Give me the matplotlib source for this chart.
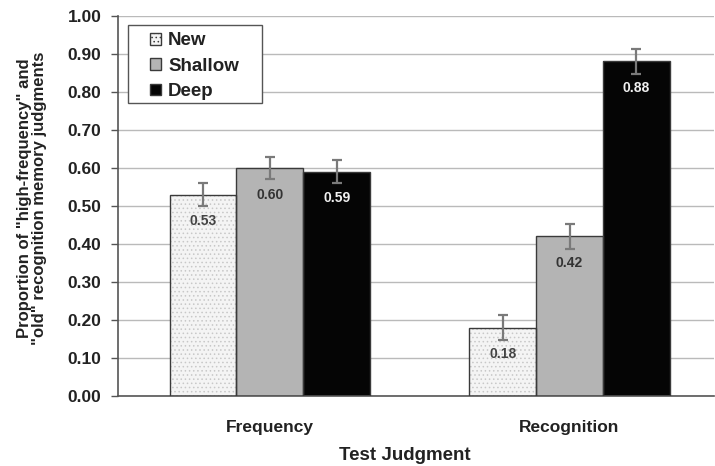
import matplotlib.pyplot as plt
import numpy as np
from matplotlib.patches import Patch, Rectangle

plt.rcParams['font.family'] = ['Liberation Sans', 'DejaVu Sans']
plt.rcParams['hatch.linewidth'] = 0.6

groups = ["Frequency", "Recognition"]
conditions = ["New", "Shallow", "Deep"]
new_vals = [0.53, 0.18]
shallow_vals = [0.60, 0.42]
deep_vals = [0.59, 0.88]
new_err = [0.03, 0.032]
shallow_err = [0.03, 0.032]
deep_err = [0.03, 0.032]
yticks = np.arange(0, 1.01, 0.1)

series = [
    (new_vals, new_err, "#f4f4f4", "#c8c8c8", "....", "#444444"),
    (shallow_vals, shallow_err, "#b4b4b4", "#a0a0a0", "", "#333333"),
    (deep_vals, deep_err, "#050505", "#050505", "", "#f0f0f0"),
]
txt = "#222222"

fig = plt.figure(figsize=(7.15, 4.66), dpi=100)
ax = fig.add_axes([0.165, 0.150, 0.834, 0.816])

x = np.arange(len(groups))
w = 0.223
for i, (vals, errs, fc, hc, hatch, tc) in enumerate(series):
    pos = x + (i - 1) * w
    # texture layer, then outline on top
    ax.bar(pos, vals, w, color=fc, edgecolor=hc, hatch=hatch, linewidth=0, zorder=2)
    ax.bar(pos, vals, w, facecolor="none", edgecolor="#3a3a3a", linewidth=1.0, zorder=3)
    ax.errorbar(pos, vals, yerr=errs, fmt="none", ecolor="#7a7a7a", elinewidth=1.6,
                capsize=3.5, capthick=1.6, zorder=4)
    for p, v in zip(pos, vals):
        ax.text(p, v - 0.07, f"{v:.2f}", ha="center", va="center", fontsize=10,
                fontweight="bold", color=tc, zorder=5)

ax.set_xlim(-0.507, 1.483)
ax.set_ylim(0, 1.0)
ax.set_yticks(yticks)
ax.set_yticklabels([f"{t:.2f}" for t in yticks], fontsize=12.5, fontweight="bold", color=txt)
ax.set_xticks(x)
ax.set_xticklabels(groups, fontsize=12.5, fontweight="bold", color=txt)
ax.tick_params(axis="x", length=0, pad=17)
ax.tick_params(axis="y", direction="out", length=5, width=1, color="#555555", pad=7)
ax.yaxis.grid(True, color="#bababa", linewidth=1.0, zorder=0)
ax.set_axisbelow(True)
for s in ["top", "right"]:
    ax.spines[s].set_visible(False)
for s in ["left", "bottom"]:
    ax.spines[s].set_color("#555555")
    ax.spines[s].set_linewidth(1.2)

fig.text(32 / 715, 1 - 198 / 466,
         'Proportion of "high-frequency" and\n"old" recognition memory judgments',
         rotation=90, ha="center", va="center", multialignment="center",
         fontsize=12, fontweight="bold", color=txt, linespacing=1.05)
fig.text(405 / 715, 1 - 455 / 466, "Test Judgment", ha="center", va="center",
         fontsize=13.5, fontweight="bold", color=txt)

# legend: frame drawn separately to get the wide box of the original
ax.add_patch(Rectangle((0.0168, 0.771), 0.224, 0.205, transform=ax.transAxes,
                       facecolor="white", edgecolor="#555555", linewidth=1.0, zorder=6))
leg_handles = [Patch(facecolor=s[2], edgecolor="#3a3a3a", hatch=s[4]) for s in series]
leg = ax.legend(leg_handles, conditions, loc="upper left", bbox_to_anchor=(0.054, 0.957),
                frameon=False, handlelength=0.6, handleheight=0.6, handletextpad=0.35,
                borderpad=0, borderaxespad=0, labelspacing=0.45,
                prop={"weight": "bold", "size": 13.5})
leg.set_zorder(7)
for t in leg.get_texts():
    t.set_color(txt)

fig.savefig("out.png", dpi=100)
